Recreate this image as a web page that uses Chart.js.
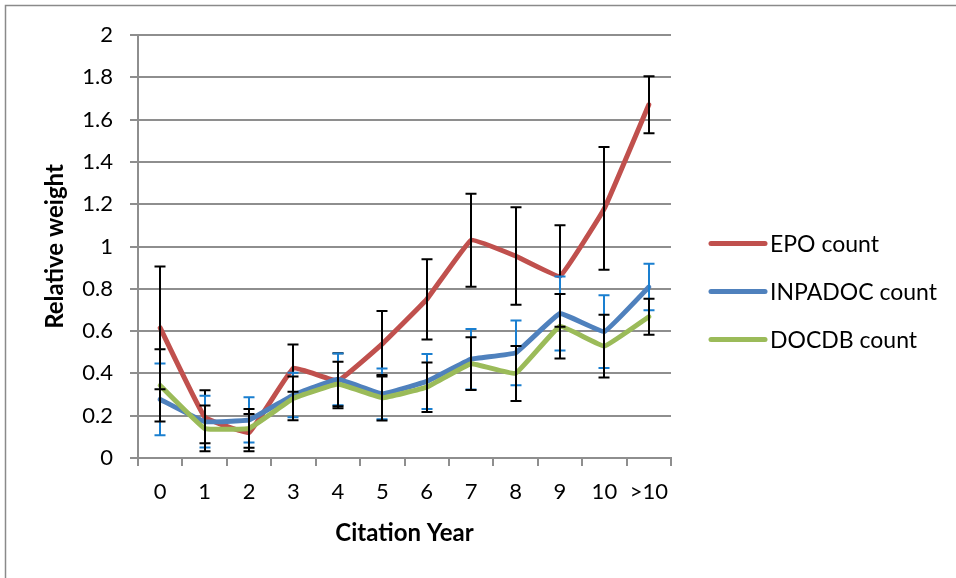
<!DOCTYPE html>
<html>
<head>
<meta charset="utf-8">
<title>Relative weight by citation year</title>
<script src="https://cdn.jsdelivr.net/npm/chart.js@4"></script>
<style>
  html, body { margin: 0; padding: 0; background: #fff; }
  canvas { display: block; }
</style>
</head>
<body>
<canvas id="myChart" width="956" height="578"></canvas>
<script>
var categories = ['0', '1', '2', '3', '4', '5', '6', '7', '8', '9', '10', '>10'];
var yTickLabels = ['0', '0.2', '0.4', '0.6', '0.8', '1', '1.2', '1.4', '1.6', '1.8', '2'];

var epoCount = [0.615, 0.195, 0.12, 0.425, 0.365, 0.54, 0.75, 1.03, 0.955, 0.86, 1.18, 1.67];
var epoError = [0.29, 0.125, 0.088, 0.112, 0.13, 0.155, 0.19, 0.22, 0.23, 0.24, 0.29, 0.135];

var inpadocCount = [0.277, 0.172, 0.18, 0.298, 0.372, 0.303, 0.362, 0.467, 0.497, 0.683, 0.598, 0.808];
var inpadocError = [0.17, 0.122, 0.107, 0.105, 0.122, 0.12, 0.13, 0.143, 0.153, 0.175, 0.172, 0.11];

var docdbCount = [0.343, 0.14, 0.14, 0.282, 0.35, 0.285, 0.335, 0.446, 0.4, 0.623, 0.529, 0.668];
var docdbError = [0.171, 0.108, 0.092, 0.103, 0.105, 0.108, 0.117, 0.125, 0.13, 0.152, 0.148, 0.085];

var gridGray = '#8e8e8e';
var fontFamily = 'Lato, "Open Sans", sans-serif';

// outer frame of the chart object (left and top edges are visible)
var framePlugin = {
    id: 'frame',
    beforeDraw: function (chart) {
        var ctx = chart.ctx;
        ctx.save();
        ctx.strokeStyle = '#8a8a8a';
        ctx.lineWidth = 1.5;
        ctx.beginPath();
        ctx.moveTo(5.5, chart.height);
        ctx.lineTo(5.5, 5.5);
        ctx.lineTo(chart.width, 5.5);
        ctx.stroke();
        ctx.restore();
    }
};

// symmetric error bars with caps
var errorBarPlugin = {
    id: 'errorBars',
    afterDatasetsDraw: function (chart) {
        var ctx = chart.ctx;
        var yScale = chart.scales.y;
        ctx.save();
        chart.data.datasets.forEach(function (ds, i) {
            var meta = chart.getDatasetMeta(i);
            ctx.strokeStyle = ds.errorColor;
            ctx.lineWidth = 2;
            meta.data.forEach(function (pt, j) {
                var v = ds.data[j], e = ds.errors[j];
                var yTop = yScale.getPixelForValue(v + e);
                var yBot = yScale.getPixelForValue(v - e);
                var x = Math.round(pt.x);
                ctx.beginPath();
                ctx.moveTo(x, yTop);
                ctx.lineTo(x, yBot);
                ctx.moveTo(x - 5.5, yTop);
                ctx.lineTo(x + 5.5, yTop);
                ctx.moveTo(x - 5.5, yBot);
                ctx.lineTo(x + 5.5, yBot);
                ctx.stroke();
            });
        });
        ctx.restore();
    }
};

// legend on the right, drawn from the datasets
var sideLegendPlugin = {
    id: 'sideLegend',
    afterDraw: function (chart) {
        var ctx = chart.ctx;
        var area = chart.chartArea;
        var x0 = area.right + 40;
        var yMid = (area.top + area.bottom) / 2 + 45;
        ctx.save();
        ctx.font = '23px ' + fontFamily;
        ctx.textBaseline = 'middle';
        ctx.fillStyle = '#000';
        ctx.lineCap = 'round';
        chart.data.datasets.forEach(function (ds, i) {
            var y = yMid + (i - 1) * 48;
            ctx.strokeStyle = ds.borderColor;
            ctx.lineWidth = 5;
            ctx.beginPath();
            ctx.moveTo(x0, y);
            ctx.lineTo(x0 + 54, y);
            ctx.stroke();
            ctx.fillText(ds.label, x0 + 59, y + 1);
        });
        ctx.restore();
    }
};

document.addEventListener('DOMContentLoaded', function () {
    var ctx = document.getElementById('myChart').getContext('2d');
    var myChart = new Chart(ctx, {
        type: 'line',
        data: {
            labels: categories,
            datasets: [{
                label: 'EPO count',
                data: epoCount,
                errors: epoError,
                errorColor: '#000000',
                borderColor: '#C0504D',
                backgroundColor: '#C0504D',
                order: 2
            }, {
                label: 'INPADOC count',
                data: inpadocCount,
                errors: inpadocError,
                errorColor: '#1a7fd0',
                borderColor: '#4F81BD',
                backgroundColor: '#4F81BD',
                order: 1
            }, {
                label: 'DOCDB count',
                data: docdbCount,
                errors: docdbError,
                errorColor: '#000000',
                borderColor: '#9BBB59',
                backgroundColor: '#9BBB59',
                order: 0
            }]
        },
        options: {
            responsive: false,
            animation: false,
            layout: {
                padding: { top: 35, right: 285, left: 0, bottom: 0 }
            },
            elements: {
                line: { borderWidth: 5, tension: 0.08, borderCapStyle: 'round', borderJoinStyle: 'round' },
                point: { radius: 0, hoverRadius: 0 }
            },
            plugins: {
                legend: { display: false },
                tooltip: { enabled: false }
            },
            scales: {
                x: {
                    offset: true,
                    afterFit: function (scale) { scale.height = 120; },
                    grid: {
                        offset: true,
                        drawOnChartArea: false,
                        drawTicks: true,
                        tickLength: 8,
                        color: gridGray,
                        lineWidth: 2
                    },
                    border: { display: true, color: gridGray, width: 2 },
                    ticks: {
                        padding: 13,
                        color: '#000',
                        maxRotation: 0,
                        autoSkip: false,
                        font: { family: fontFamily, size: 22 }
                    },
                    title: {
                        display: true,
                        text: 'Citation Year',
                        color: '#000',
                        padding: { top: 0, bottom: 30 },
                        font: { family: fontFamily, size: 24, weight: 'bold' }
                    }
                },
                y: {
                    min: 0,
                    max: 2,
                    afterFit: function (scale) { scale.width = 138; },
                    grid: {
                        drawTicks: true,
                        tickLength: 8,
                        color: gridGray,
                        lineWidth: 2
                    },
                    border: { display: true, color: gridGray, width: 2 },
                    ticks: {
                        stepSize: 0.2,
                        padding: 17,
                        color: '#000',
                        font: { family: fontFamily, size: 22 },
                        callback: function (value, index) {
                            return yTickLabels[index];
                        }
                    },
                    title: {
                        display: true,
                        text: 'Relative weight',
                        color: '#000',
                        padding: { top: 41, bottom: 0 },
                        font: { family: fontFamily, size: 24, weight: 'bold' }
                    }
                }
            }
        },
        plugins: [framePlugin, errorBarPlugin, sideLegendPlugin]
    });
});
</script>
</body>
</html>
